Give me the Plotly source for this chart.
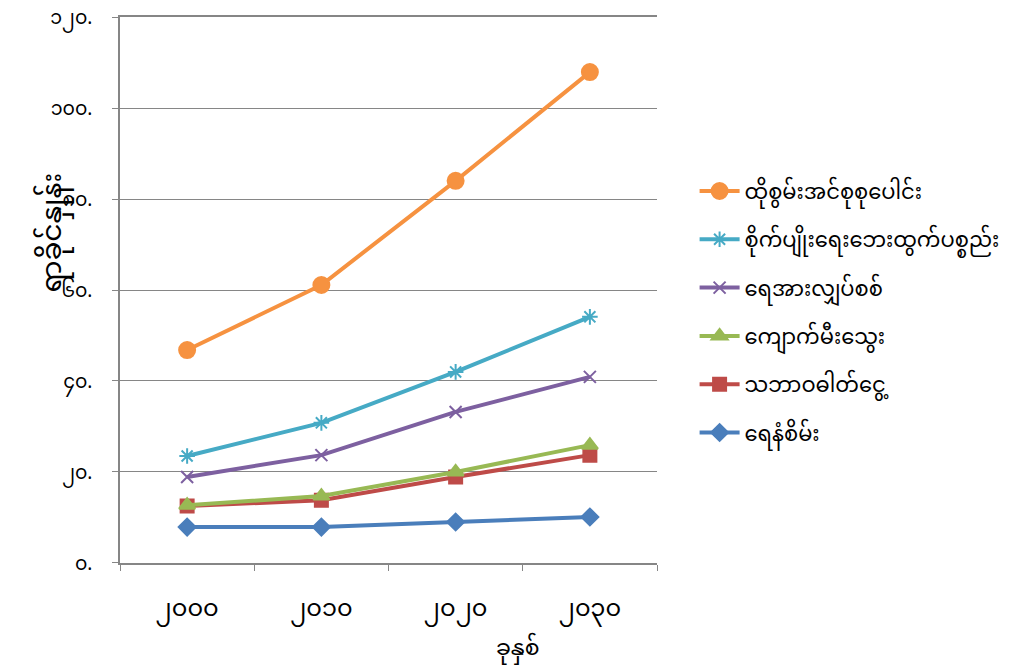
import plotly.graph_objects as go

years = ["၂၀၀၀", "၂၀၁၀", "၂၀၂၀", "၂၀၃၀"]
y_tickvals = [0, 20, 40, 60, 80, 100, 120]
y_ticktext = ["၀.", "၂၀.", "၄၀.", "၆၀.", "၈၀.", "၁၀၀.", "၁၂၀."]

total = [46.8, 61.1, 84.0, 107.9]
agri = [23.5, 30.8, 42.0, 54.1]
hydro = [18.9, 23.7, 33.2, 40.9]
coal = [12.7, 14.7, 20.0, 25.9]
gas = [12.5, 13.8, 18.9, 23.7]
oil = [7.9, 7.9, 9.0, 10.1]

names = ["ထိုစွမ်းအင်စုစုပေါင်း", "စိုက်ပျိုးရေးဘေးထွက်ပစ္စည်း", "ရေအားလျှပ်စစ်",
         "ကျောက်မီးသွေး", "သဘာဝဓါတ်ငွေ့", "ရေနံစိမ်း"]

series = [
    (names[5], oil, "#4A7EBB", "diamond", 13, 6),
    (names[4], gas, "#BE4B48", "square", 13, 5),
    (names[3], coal, "#98B954", "triangle-up", 14, 4),
    (names[2], hydro, "#7D60A0", "x-thin", 12, 3),
    (names[1], agri, "#46AAC5", "asterisk-open", 13, 2),
    (names[0], total, "#F69240", "circle", 16, 1),
]

fig = go.Figure()
for i, (name, vals, color, sym, size, rank) in enumerate(series):
    fig.add_trace(go.Scatter(
        x=years, y=vals, name=name, mode="lines+markers", legendgroup=f"g{i}",
        legendrank=rank,
        line=dict(color=color, width=4),
        marker=dict(symbol=sym, size=size, color=color,
                    line=dict(color=color, width=2)),
    ))

font_family = "Noto Sans Myanmar, Myanmar Text, Padauk, Noto Sans, DejaVu Sans, sans-serif"

fig.update_layout(
    width=1019, height=663,
    margin=dict(l=112, r=370, t=9, b=108, autoexpand=False),
    paper_bgcolor="white", plot_bgcolor="white",
    font=dict(family=font_family, size=18, color="black"),
    showlegend=True,
    legend=dict(traceorder="grouped", x=1.07, y=0.46, xanchor="left", yanchor="middle",
                font=dict(size=21), tracegroupgap=18, itemwidth=40,
                bgcolor="rgba(0,0,0,0)"),
    xaxis=dict(
        type="category", range=[-0.5, 3.5], showgrid=False, automargin=False,
        showline=True, linecolor="#868686", linewidth=1.5, mirror=True,
        ticks="outside", tickson="boundaries", ticklen=6, tickcolor="#868686",
        ticklabelstandoff=22, tickfont=dict(size=24), ticklabeloverflow="allow",
    ),
    yaxis=dict(
        range=[-0.01, 120.01], tickvals=y_tickvals, ticktext=y_ticktext, automargin=False,
        showgrid=True, gridcolor="#868686", gridwidth=1,
        showline=True, linecolor="#868686", linewidth=1.5,
        ticks="outside", ticklen=6, tickcolor="#868686",
        ticklabelstandoff=16, tickfont=dict(size=19), zeroline=False,
        ticklabeloverflow="allow",
    ),
    annotations=[
        dict(text="ခုနှစ်", xref="paper", yref="paper", x=0.741, y=-0.16,
             showarrow=False, font=dict(size=22), xanchor="center", yanchor="middle"),
        dict(text="ရာခိုင်နှုန်း", xref="paper", yref="paper", x=-0.122, y=0.606,
             showarrow=False, textangle=-90, font=dict(size=28),
             xanchor="center", yanchor="middle"),
    ],
)

fig.write_html("out.html")
